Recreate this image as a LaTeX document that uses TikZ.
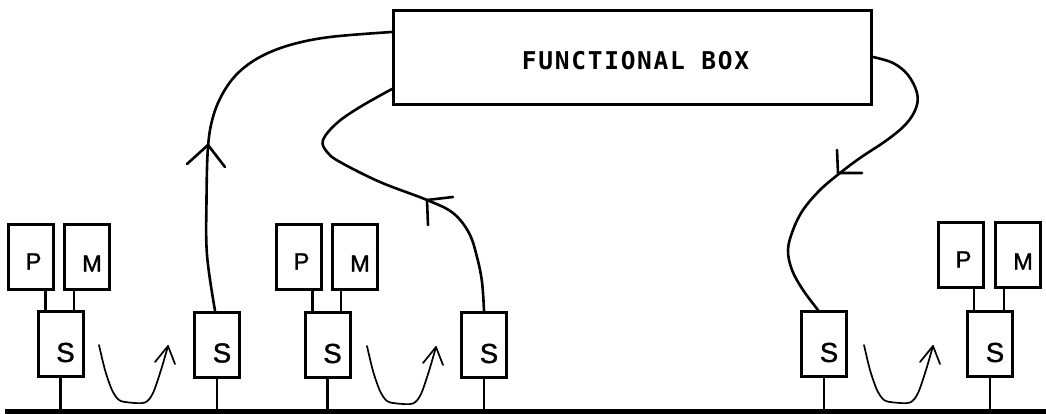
\documentclass[tikz,border=0pt]{standalone}
\usepackage{fontspec}
\newfontfamily\monofs[LetterSpace=7]{DejaVu Sans Mono}
\newfontfamily\sansf[FakeBold=1.3]{Liberation Sans}
\begin{document}
\begin{tikzpicture}[x=1pt,y=-1pt,
  box/.style={draw, line width=3pt, minimum width=45pt, minimum height=65pt, inner sep=0pt},
  fbox/.style={draw, line width=3pt, minimum width=478pt, minimum height=94pt, inner sep=0pt},
  wire/.style={line width=2.8pt},
  flow/.style={line width=2.6pt, line cap=round, line join=round},
  loopline/.style={line width=1.7pt, line cap=round, line join=round},
  bus/.style={line width=5pt},
  lbl/.style={font=\sansf\fontsize{23.5}{23.5}\selectfont, inner sep=0pt},
  slbl/.style={font=\sansf\fontsize{27.5}{27.5}\selectfont, inner sep=0pt},
  fblbl/.style={font=\monofs\bfseries\fontsize{24.5}{24.5}\selectfont, inner sep=0pt},
  uloop/.pic={
    \draw[loopline] plot[smooth,tension=0.5] coordinates {(0,0) (6,25) (13,45) (20,55) (30,57.5) (46,57.5) (54,48) (62,25) (69,1)};
    \draw[loopline] (56,17) -- (69,1) -- (76,19);
  }]
\useasboundingbox (0,0) rectangle (1046,414);

% functional box
\node[fbox] (FB) at (632.5,57.5) {};
\node[fblbl] (FBt) at ([xshift=3pt,yshift=-3.5pt]FB.center) {FUNCTIONAL BOX};

% boxes
\node[box] (P1) at (31,257) {};
\node[box] (M1) at (87,257) {};
\node[box] (S1) at (60.5,344) {};
\node[box] (S2) at (217,344.5) {};
\node[box] (P2) at (299,257) {};
\node[box] (M2) at (355,257) {};
\node[box] (S3) at (327.5,345) {};
\node[box] (S4) at (484,345) {};
\node[box] (S5) at (824,344) {};
\node[box] (P3) at (961,255) {};
\node[box] (M3) at (1018,255) {};
\node[box] (S6) at (990,344) {};

% labels
\foreach \b in {P1,P2,P3} \node[lbl] (\b t) at ([xshift=2.5pt,yshift=-4.5pt]\b.center) {P};
\foreach \b in {M1,M2,M3} \node[lbl] (\b t) at ([xshift=5pt,yshift=-6.5pt]\b.center) {M};
\foreach \b in {S1,S2,S3,S4,S5,S6} \node[slbl] (\b t) at ([xshift=5pt,yshift=-8.5pt]\b.center) {S};

% bus
\coordinate (busL) at (5,411.5);
\coordinate (busR) at (1046,411.5);
\draw[bus] (busL) -- (busR);
\foreach \s in {S1,S2,S3,S4,S5,S6} \draw[wire] (\s.south) -- (\s.south |- busL);

% P/M to S
\draw[wire] ([xshift=-15pt]S1.north) -- ([xshift=-15pt]S1.north |- P1.south);
\draw[wire] ([xshift=13.5pt]S1.north) -- ([xshift=13.5pt]S1.north |- M1.south);
\draw[wire] ([xshift=-15pt]S3.north) -- ([xshift=-15pt]S3.north |- P2.south);
\draw[wire] ([xshift=13.5pt]S3.north) -- ([xshift=13.5pt]S3.north |- M2.south);
\draw[wire] ([xshift=-16pt]S6.north) -- ([xshift=-16pt]S6.north |- P3.south);
\draw[wire] ([xshift=14pt]S6.north) -- ([xshift=14pt]S6.north |- M3.south);

% curve A: S2 -> FB
\draw[flow] plot[smooth,tension=0.6] coordinates {([xshift=-2pt]S2.north) (207,255) (206.5,200) (208,147) (213,117) (223,93) (238,73) (260,57) (290,45) (330,37) ([yshift=25.5pt]FB.west)};
\draw[flow] (187,164) -- (208,145) -- (225,167);

% curve B: S4 -> FB
\draw[flow] plot[smooth,tension=0.6] coordinates {([yshift=-31.5pt]FB.west) (360,107) (337,123) (323,140) (327,152) (340,162) (380,182) (427,200) (453,213) (469,233) (477,257) (482,282) (S4.north)};
\draw[flow] (453,197) -- (427,200) -- (428,225);

% curve C: FB -> S5
\draw[flow] plot[smooth,tension=0.6] coordinates {([yshift=0.5pt]FB.east) (893,63) (908,75) (917,93) (916,108) (906,124) (887,140) (860,158) (840,173) (820,190) (803,210) (793,230) (788,250) (792,270) (803,290) ([xshift=-6pt]S5.north)};
\draw[flow] (837,150) -- (838,173) -- (862,173);

% loops
\pic at (99,345) {uloop};
\pic at (367,346) {uloop};
\pic at (864,345) {uloop};
\end{tikzpicture}
\end{document}
